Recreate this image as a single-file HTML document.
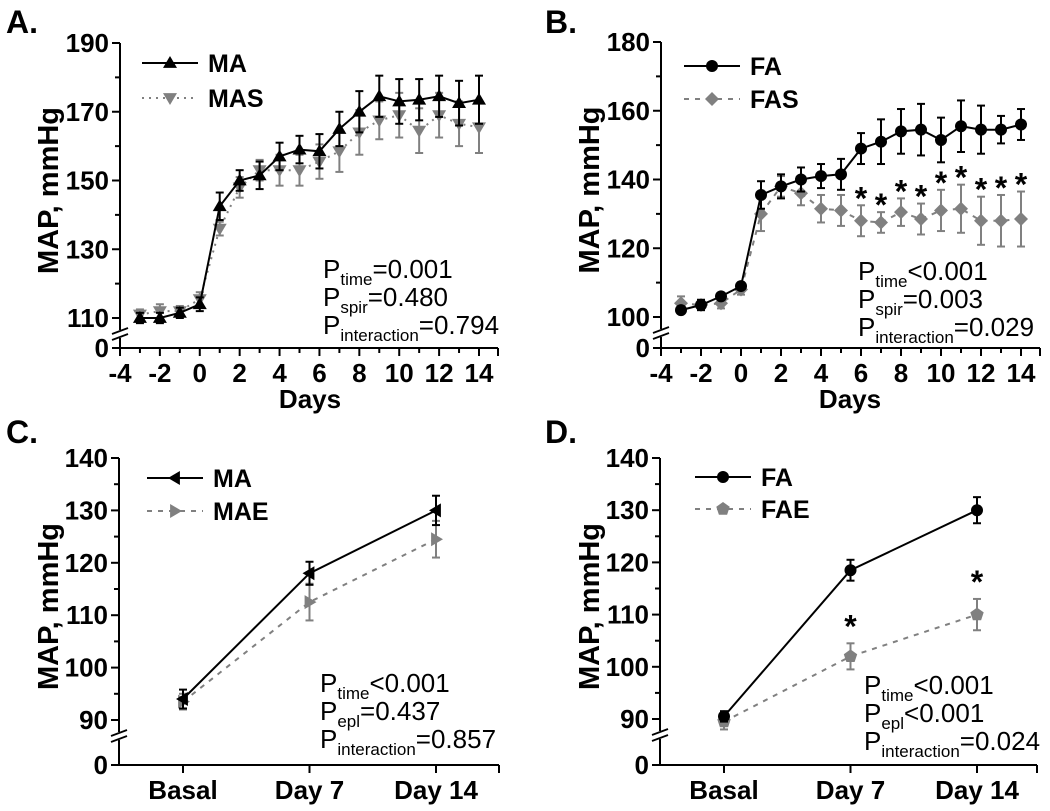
<!DOCTYPE html>
<html><head><meta charset="utf-8"><style>
html,body{margin:0;padding:0;background:#fff}
svg{display:block;font-family:"Liberation Sans",Arial,sans-serif}
</style></head><body>
<svg id="fig" width="1050" height="811" viewBox="0 0 1050 811"></svg>
<script>
// ---- Panel A data ----
const daysAB = [-3,-2,-1,0,1,2,3,4,5,6,7,8,9,10,11,12,13,14];
const maA = [110,110,111.5,114,142.5,150,151.5,157,159,158.5,165,170,174.5,173,173.5,174.5,172.5,173.5];
const maAerr = [1.5,1.5,1.5,2,4,3,4,4,4,5,5,6,6,6.5,6,6,6.5,7];
const masA = [111,112,112,115.5,136,148,153,153,153,155.5,158.5,164,167.5,169,164.5,169,166.5,165.5];
const masAerr = [1.5,2,1.5,2,2,3,3,4.5,4.5,5,6,6.5,5.5,6.5,6.5,6.5,6.5,7.5];
const yTicksA = [110,130,150,170,190];
// ---- Panel B data ----
const faB = [102,103.5,106,109,135.5,138,140,141,141.5,149,151,154,154.5,151.5,155.5,154.5,154.5,156];
const faBerr = [1,1.5,1,1,4,3.5,3.5,3.5,4.5,4.5,6.5,6.5,7.5,6.5,7.5,7,4,4.5];
const fasB = [104,103.5,104,108,130,138,136,131.5,131,128,127.5,130.5,128.5,131,131.5,128,128,128.5];
const fasBerr = [2,1.5,1.5,1.5,5,3,3.5,4,4.5,4.5,3,4,4.5,6,7,7,7.5,8];
const starsB = [6,7,8,9,10,11,12,13,14];
const yTicksB = [100,120,140,160,180];
const xTicksAB = [-4,-2,0,2,4,6,8,10,12,14];
// ---- Panel C/D data ----
const catsCD = ["Basal","Day 7","Day 14"];
const maC = [94,118,130];
const maCerr = [1.8,2.2,2.8];
const maeC = [93.5,112.5,124.5];
const maeCerr = [1.5,3.5,3.5];
const faD = [90.5,118.5,130];
const faDerr = [1,2,2.5];
const faeD = [89.5,102,110];
const faeDerr = [1.5,2.5,3];
const starsD = [1,2];
const yTicksCD = [90,100,110,120,130,140];

const NS = "http://www.w3.org/2000/svg";
const svg = document.getElementById("fig");
function el(tag, attrs, parent, text){
  const e = document.createElementNS(NS, tag);
  for (const k in attrs) e.setAttribute(k, attrs[k]);
  if (text !== undefined) e.textContent = text;
  (parent||svg).appendChild(e);
  return e;
}
function marker(g, type, x, y, fill){
  const s = 7;
  let m;
  if (type==="up") m = el("polygon",{points:`${x},${y-s} ${x-s},${y+s*0.7} ${x+s},${y+s*0.7}`,fill:fill},g);
  else if (type==="down") m = el("polygon",{points:`${x},${y+s} ${x-s},${y-s*0.7} ${x+s},${y-s*0.7}`,fill:fill},g);
  else if (type==="left") m = el("polygon",{points:`${x-s},${y} ${x+s*0.7},${y-s} ${x+s*0.7},${y+s}`,fill:fill},g);
  else if (type==="right") m = el("polygon",{points:`${x+s},${y} ${x-s*0.7},${y-s} ${x-s*0.7},${y+s}`,fill:fill},g);
  else if (type==="circle") m = el("circle",{cx:x,cy:y,r:6,fill:fill},g);
  else if (type==="diamond") m = el("polygon",{points:`${x},${y-7} ${x+7},${y} ${x},${y+7} ${x-7},${y}`,fill:fill},g);
  else if (type==="pentagon"){
    let p=[];for(let i=0;i<5;i++){const a=-Math.PI/2+i*2*Math.PI/5;p.push((x+7*Math.cos(a)).toFixed(1)+","+(y+7*Math.sin(a)).toFixed(1));}
    m = el("polygon",{points:p.join(" "),fill:fill},g);
  }
  
  
  return m;
}

function panel(cfg){
  const g = el("g",{});
  
  
  const {ax, yTop, yBot, vTop, vBot, yZero, xEnd} = cfg;
  const ys = v => yBot + (v - vBot) * (yTop - yBot) / (vTop - vBot);
  const xs = cfg.xs;
  const lt = el("text",{x:cfg.letterX,y:cfg.letterY,"font-size":32,"font-weight":"bold"},g,cfg.letter);
   
  const yaxis = el("g",{},g);
   
  el("line",{x1:ax,y1:yTop,x2:ax,y2:yBot+12,stroke:"#000","stroke-width":2},yaxis);
  el("line",{x1:ax,y1:yBot+20,x2:ax,y2:yZero,stroke:"#000","stroke-width":2},yaxis);
  el("line",{x1:ax-8,y1:yBot+16,x2:ax+8,y2:yBot+10,stroke:"#000","stroke-width":1.8},yaxis);
  el("line",{x1:ax-8,y1:yBot+22,x2:ax+8,y2:yBot+16,stroke:"#000","stroke-width":1.8},yaxis);
  const step = cfg.yTicks[1]-cfg.yTicks[0];
  cfg.yTicks.forEach((v,i)=>{
    el("line",{x1:ax-8,y1:ys(v),x2:ax,y2:ys(v),stroke:"#000","stroke-width":2},yaxis);
    if (i < cfg.yTicks.length-1) el("line",{x1:ax-5,y1:ys(v+step/2),x2:ax,y2:ys(v+step/2),stroke:"#000","stroke-width":2},yaxis);
    const t = el("text",{x:ax-11,y:ys(v)+9,"font-size":26,"font-weight":"bold","text-anchor":"end"},yaxis,String(v));
     
  });
  el("line",{x1:ax-8,y1:yZero,x2:ax,y2:yZero,stroke:"#000","stroke-width":2},yaxis);
  const z = el("text",{x:ax-11,y:yZero+9,"font-size":26,"font-weight":"bold","text-anchor":"end"},yaxis,"0");
   
  const yt = el("text",{x:0,y:0,"font-size":29,"font-weight":"bold","text-anchor":"middle",transform:`translate(${cfg.yTitleX},${(yTop+yZero)/2-5}) rotate(-90)`},g,"MAP, mmHg");
   
  const xaxis = el("g",{},g);
   
  el("line",{x1:ax-1,y1:yZero,x2:xEnd,y2:yZero,stroke:"#000","stroke-width":2},xaxis);
  cfg.xTickPos.forEach(p=>el("line",{x1:xs(p),y1:yZero,x2:xs(p),y2:yZero+(cfg.xMajor.includes(p)?8:5),stroke:"#000","stroke-width":2},xaxis));
  el("line",{x1:xEnd,y1:yZero,x2:xEnd,y2:yZero+8,stroke:"#000","stroke-width":2},xaxis);
  cfg.xLabels.forEach((lab,i)=>{
    const t = el("text",{x:xs(cfg.xMajor[i]),y:yZero+34,"font-size":26,"font-weight":"bold","text-anchor":"middle"},xaxis,lab);
     
  });
  if (cfg.xTitle){
    const t = el("text",{x:cfg.xTitleX,y:yZero+60,"font-size":26,"font-weight":"bold","text-anchor":"middle"},g,cfg.xTitle);
     
  }
  [cfg.series[1], cfg.series[0]].forEach(s=>{
    const sg = el("g",{},g);
     
    const pts = s.vals.map((v,i)=>xs(cfg.xVals[i]).toFixed(1)+","+ys(v).toFixed(1)).join(" ");
    el("polyline",{points:pts,fill:"none",stroke:s.color,"stroke-width":2,"stroke-dasharray":s.dash||"none"},sg);
    s.vals.forEach((v,i)=>{
      const x = xs(cfg.xVals[i]), e = s.err[i];
      el("line",{x1:x,y1:ys(v+e),x2:x,y2:ys(v-e),stroke:s.color,"stroke-width":2},sg);
      el("line",{x1:x-4,y1:ys(v+e),x2:x+4,y2:ys(v+e),stroke:s.color,"stroke-width":2},sg);
      el("line",{x1:x-4,y1:ys(v-e),x2:x+4,y2:ys(v-e),stroke:s.color,"stroke-width":2},sg);
      marker(sg, s.marker, x, ys(v), s.color);
    });
  });
  if (cfg.stars){
    cfg.stars.forEach(p=>{
      const i = cfg.xVals.indexOf(p);
      const top = cfg.series[1].vals[i]+cfg.series[1].err[i];
      const t = el("text",{x:xs(p),y:ys(top)-cfg.starGap+18,"font-size":32,"font-weight":"bold","text-anchor":"middle"},g,"*");
       
    });
  }
  cfg.series.forEach((s,i)=>{
    const lg = el("g",{},g);
     
    const y = cfg.legY + i*cfg.legGap;
    el("line",{x1:cfg.legX,y1:y,x2:cfg.legX+56,y2:y,stroke:s.color,"stroke-width":2,"stroke-dasharray":s.dash||"none"},lg);
    marker(lg, s.marker, cfg.legX+28, y, s.color);
    el("text",{x:cfg.legX+66,y:y+9,"font-size":25,"font-weight":"bold"},lg,s.label);
  });
  const st = el("g",{},g);
   
  cfg.stats.forEach((s,i)=>{
    const t = el("text",{x:cfg.statX,y:cfg.statY+i*28,"font-size":26},st);
    el("tspan",{},t,"P");
    el("tspan",{"font-size":17,dy:7},t,s[0]);
    el("tspan",{dy:-7},t,s[1]);
  });
}

panel({name:"panel-a",letter:"A.",letterX:6,letterY:33,ax:120,yTop:43,yBot:318,vTop:190,vBot:110,yZero:348,xEnd:498,
  xs:d=>120+(d+4)*(359/18),xVals:daysAB,xTickPos:[-4,-3,-2,-1,0,1,2,3,4,5,6,7,8,9,10,11,12,13,14],xMajor:xTicksAB,
  xLabels:xTicksAB.map(String),xTitle:"Days",xTitleX:310,yTicks:yTicksA,yTitleX:58,
  series:[{name:"ma",label:"MA",vals:maA,err:maAerr,color:"#000",marker:"up"},
          {name:"mas",label:"MAS",vals:masA,err:masAerr,color:"#808080",marker:"down",dash:"2,5"}],
  legX:142,legY:63,legGap:35,statX:323,statY:278,
  stats:[["time","=0.001"],["spir","=0.480"],["interaction","=0.794"]]});
panel({name:"panel-b",letter:"B.",letterX:545,letterY:33,ax:661,yTop:42,yBot:317,vTop:180,vBot:100,yZero:348,xEnd:1040,
  xs:d=>661+(d+4)*20,xVals:daysAB,xTickPos:[-4,-3,-2,-1,0,1,2,3,4,5,6,7,8,9,10,11,12,13,14],xMajor:xTicksAB,
  xLabels:xTicksAB.map(String),xTitle:"Days",xTitleX:850,yTicks:yTicksB,yTitleX:599,
  series:[{name:"fa",label:"FA",vals:faB,err:faBerr,color:"#000",marker:"circle"},
          {name:"fas",label:"FAS",vals:fasB,err:fasBerr,color:"#808080",marker:"diamond",dash:"5,6"}],
  stars:starsB,starGap:14,
  legX:684,legY:66,legGap:33,statX:858,statY:280,
  stats:[["time","<0.001"],["spir","=0.003"],["interaction","=0.029"]]});
panel({name:"panel-c",letter:"C.",letterX:6,letterY:443,ax:119,yTop:458,yBot:720,vTop:140,vBot:90,yZero:765,xEnd:499,
  xs:i=>183+i*126.5,xVals:[0,1,2],xTickPos:[0,1,2],xMajor:[0,1,2],xLabels:catsCD,yTicks:yTicksCD,yTitleX:58,
  series:[{name:"ma",label:"MA",vals:maC,err:maCerr,color:"#000",marker:"left"},
          {name:"mae",label:"MAE",vals:maeC,err:maeCerr,color:"#808080",marker:"right",dash:"5,6"}],
  legX:147,legY:478,legGap:33,statX:320,statY:692,
  stats:[["time","<0.001"],["epl","=0.437"],["interaction","=0.857"]]});
panel({name:"panel-d",letter:"D.",letterX:545,letterY:443,ax:660,yTop:458,yBot:719,vTop:140,vBot:90,yZero:765,xEnd:1037,
  xs:i=>724+i*126.5,xVals:[0,1,2],xTickPos:[0,1,2],xMajor:[0,1,2],xLabels:catsCD,yTicks:yTicksCD,yTitleX:599,
  series:[{name:"fa",label:"FA",vals:faD,err:faDerr,color:"#000",marker:"circle"},
          {name:"fae",label:"FAE",vals:faeD,err:faeDerr,color:"#808080",marker:"pentagon",dash:"5,6"}],
  stars:starsD,starGap:24,
  legX:695,legY:477,legGap:32,statX:864,statY:694,
  stats:[["time","<0.001"],["epl","<0.001"],["interaction","=0.024"]]});
</script>
</body></html>
